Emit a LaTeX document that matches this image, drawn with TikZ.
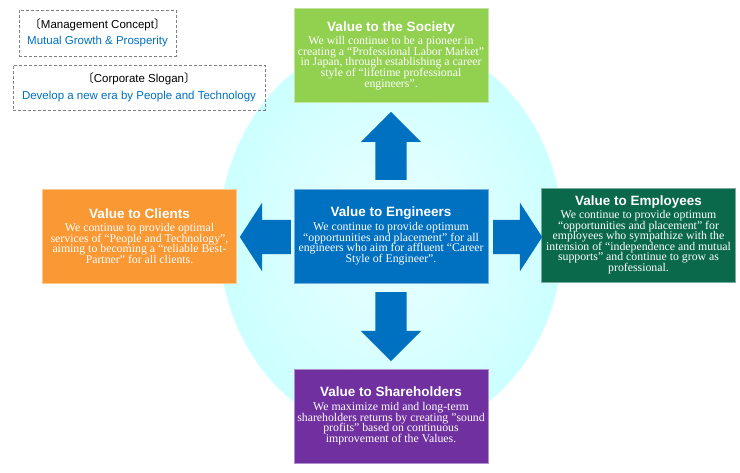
\documentclass[tikz,border=0pt]{standalone}
\usepackage{fontspec}
\setmainfont{Liberation Serif}
\newfontfamily\headfont{Liberation Sans}
\newfontfamily\cjk{Noto Sans CJK JP}
\usepackage{tikz}
\usetikzlibrary{shapes.arrows}

\definecolor{socgreen}{RGB}{146,208,80}
\definecolor{cliorange}{RGB}{250,152,52}
\definecolor{engblue}{RGB}{0,112,192}
\definecolor{empgreen}{RGB}{10,105,75}
\definecolor{shpurple}{RGB}{112,48,160}
\definecolor{ringedge}{RGB}{204,255,255}
\definecolor{ringmid}{RGB}{236,255,255}

\newcommand{\valtitle}[1]{{\headfont\bfseries\fontsize{13.5}{14}\selectfont #1}}
\newcommand{\valfont}{\fontsize{11.8}{10.6}\selectfont
    \lineskiplimit=-20pt\relax\lineskip=0pt\relax}

\begin{document}
\begin{tikzpicture}[
        x=1pt, y=-1pt,
        value/.style={
            rectangle, fill=#1, draw=#1!55!white, line width=0.8pt,
            text=white, align=center, inner sep=2pt,
            minimum width=194pt, minimum height=94pt,
            font=\valfont
        },
        motto/.style={
            rectangle, draw=gray, densely dashed, line width=0.6pt,
            align=center, inner sep=0pt,
            font=\headfont\fontsize{11.5}{16.5}\selectfont
        },
        push/.style={
            single arrow, fill=engblue, draw=none, anchor=tail,
            single arrow head indent=0pt
        }
    ]
        \useasboundingbox (0,0) rectangle (740,473);

        % pale ring behind the value boxes
        \shade[inner color=ringmid, outer color=ringedge]
            (391,237) ellipse [x radius=172, y radius=200];

        % concept and slogan
        \node[motto, minimum width=157pt, minimum height=46pt] (concept) at (97.5,33)
            {{\cjk 〔}Management Concept{\cjk 〕}\\
             \textcolor{engblue}{Mutual Growth \& Prosperity}};
        \node[motto, minimum width=252pt, minimum height=45pt] (slogan) at (139,87.5)
            {{\cjk 〔}Corporate Slogan{\cjk 〕}\\
             \textcolor{engblue}{Develop a new era by People and Technology}};

        % value boxes
        \node[value=engblue] (eng) at (391,236)
            {\valtitle{Value to Engineers}\\[3pt]
             We continue to provide optimum\\
             “opportunities and placement” for all\\
             engineers who aim for affluent “Career\\
             Style of Engineer”.};

        \node[value=socgreen] (soc) at (391,55.5)
            {\valtitle{Value to the Society}\\[3pt]
             We will continue to be a pioneer in\\
             creating a “Professional Labor Market”\\
             in Japan, through establishing a career\\
             style of “lifetime professional\\
             engineers”.};

        \node[value=cliorange] (cli) at (139.5,236)
            {\valtitle{Value to Clients}\\[3pt]
             We continue to provide optimal\\
             services of “People and Technology”,\\
             aiming to becoming a “reliable Best-\\
             Partner” for all clients.};

        \node[value=empgreen] (emp) at (638.5,235)
            {\valtitle{Value to Employees}\\[2pt]
             We continue to provide optimum\\
             “opportunities and placement” for\\
             employees who sympathize with the\\
             intension of “independence and mutual\\
             supports” and continue to grow as\\
             professional.};

        \node[value=shpurple] (sh) at (391,416)
            {\valtitle{Value to Shareholders}\\[3pt]
             We maximize mid and long-term\\
             shareholders returns by creating "sound\\
             profits" based on continuous\\
             improvement of the Values.};

        % arrows out of the engineers box (placed by their tails)
        \node[push, shape border rotate=90, inner sep=15.5pt,
              minimum height=68pt, minimum width=60pt,
              single arrow head extend=14.5pt] (toSoc) at (391,180) {};
        \node[push, shape border rotate=270, inner sep=15.5pt,
              minimum height=69pt, minimum width=60pt,
              single arrow head extend=14.5pt] (toSh) at (391,292) {};
        \node[push, shape border rotate=180, inner sep=17pt,
              minimum height=51pt, minimum width=68pt,
              single arrow head extend=17pt, single arrow tip angle=114] (toCli) at (291,237) {};
        \node[push, inner sep=17pt,
              minimum height=49pt, minimum width=68pt,
              single arrow head extend=17pt, single arrow tip angle=114] (toEmp) at (493,237) {};
    \end{tikzpicture}
\end{document}
